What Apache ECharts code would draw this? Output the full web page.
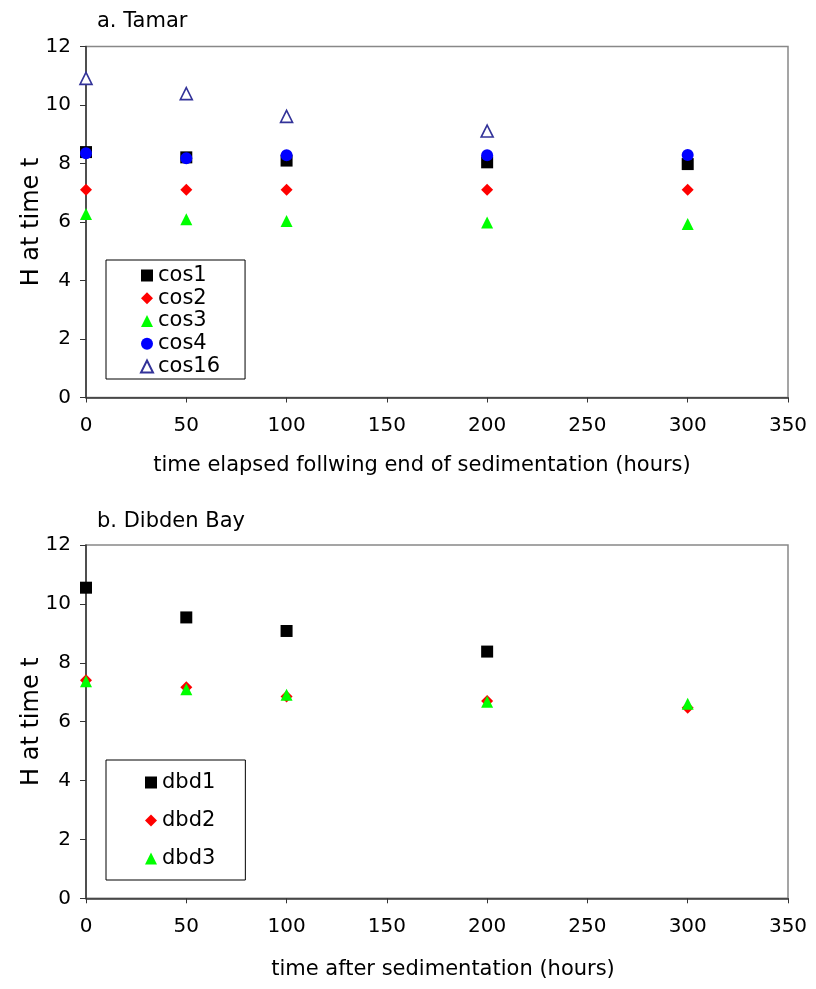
<!DOCTYPE html>
<html>
<head>
<meta charset="utf-8">
<script src="https://cdn.jsdelivr.net/npm/echarts@6/dist/echarts.min.js"></script>
<style>
html,body{margin:0;padding:0;background:#fff;}
#chart{width:816px;height:989px;}
</style>
</head>
<body>
<div id="chart"></div>
<script>
// ---- data ----
const hours = [0, 50, 100, 200, 300];
const cos1 = [8.39, 8.21, 8.10, 8.04, 7.98];
const cos2 = [7.10, 7.10, 7.10, 7.10, 7.10];
const cos3 = [6.27, 6.09, 6.03, 5.98, 5.93];
const cos4 = [8.35, 8.18, 8.28, 8.28, 8.29];
const cos16 = [10.91, 10.39, 9.61, 9.11, null];
const dbd1 = [10.55, 9.54, 9.08, 8.38, null];
const dbd2 = [7.41, 7.17, 6.85, 6.70, 6.47];
const dbd3 = [7.37, 7.10, 6.91, 6.68, 6.61];
const xTicks = [0, 50, 100, 150, 200, 250, 300, 350];
const yTicks = [0, 2, 4, 6, 8, 10, 12];

const FONT = 'DejaVu Sans';
function pairs(ys) { return hours.map((h, i) => [h, ys[i]]).filter(p => p[1] !== null); }

function xAxis(idx, name, gap, pad) {
  return {
    type: 'value', gridIndex: idx, min: xTicks[0], max: xTicks[xTicks.length - 1], interval: 50,
    name: name, nameLocation: 'middle', nameGap: gap,
    nameTextStyle: { fontFamily: FONT, fontSize: 21, color: '#000', padding: pad },
    axisLine: { show: true, onZero: false, lineStyle: { color: '#333', width: 1.5 } },
    axisTick: { show: true, inside: false, length: 5, lineStyle: { color: '#333' } },
    axisLabel: { fontFamily: FONT, fontSize: 20, color: '#000', margin: 18 },
    splitLine: { show: false }
  };
}
function yAxis(idx) {
  return {
    type: 'value', gridIndex: idx, min: yTicks[0], max: yTicks[yTicks.length - 1], interval: 2,
    name: 'H at time t', nameLocation: 'middle', nameGap: 42, nameRotate: 90, nameMoveOverlap: false,
    nameTextStyle: { fontFamily: FONT, fontSize: 24, color: '#000' },
    axisLine: { show: true, onZero: false, lineStyle: { color: '#333', width: 1.5 } },
    axisTick: { show: true, inside: false, length: 6, lineStyle: { color: '#333' } },
    axisLabel: { fontFamily: FONT, fontSize: 20, color: '#000', margin: 15 },
    splitLine: { show: false }
  };
}
function sc(name, ys, gi, symbol, color, hollow) {
  return {
    type: 'scatter', name: name, xAxisIndex: gi, yAxisIndex: gi,
    data: pairs(ys), symbol: symbol, symbolSize: 12,
    itemStyle: hollow ? { color: '#fff', borderColor: color, borderWidth: 1.6, opacity: 1 } : { color: color, opacity: 1 },
    emphasis: { disabled: true }
  };
}
const legendText = { fontFamily: FONT, fontSize: 21, color: '#000' };

const option = {
  animation: false,
  backgroundColor: '#fff',
  title: [
    { text: 'a. Tamar', left: 92, top: 6, textStyle: { fontFamily: FONT, fontSize: 21, fontWeight: 'normal', color: '#000' } },
    { text: 'b. Dibden Bay', left: 92, top: 506, textStyle: { fontFamily: FONT, fontSize: 21, fontWeight: 'normal', color: '#000' } }
  ],
  grid: [
    { left: 86, right: 28, top: 46.5, height: 351, show: true, borderColor: '#888', borderWidth: 1.5 },
    { left: 86, right: 28, top: 545, height: 353.3, show: true, borderColor: '#888', borderWidth: 1.5 }
  ],
  xAxis: [
    xAxis(0, 'time elapsed follwing end of sedimentation (hours)', 58, [0, 30, 0, 0]),
    xAxis(1, 'time after sedimentation (hours)', 61, [0, 0, 0, 12])
  ],
  yAxis: [yAxis(0), yAxis(1)],
  legend: [
    {
      data: ['cos1', 'cos2', 'cos3', 'cos4', 'cos16'], orient: 'vertical', left: 106, top: 260,
      borderColor: '#000', borderWidth: 1, padding: [5, 25, 2, 34], itemGap: 1.75,
      itemWidth: 12, itemHeight: 12, textStyle: Object.assign({ lineHeight: 20 }, legendText),
      selectedMode: false
    },
    {
      data: ['dbd1', 'dbd2', 'dbd3'], orient: 'vertical', left: 106, top: 760,
      borderColor: '#000', borderWidth: 1, padding: [12, 30, 11, 39], itemGap: 17,
      itemWidth: 12, itemHeight: 12, textStyle: Object.assign({ lineHeight: 20 }, legendText),
      selectedMode: false
    }
  ],
  series: [
    sc('cos1', cos1, 0, 'rect', '#000000'),
    sc('cos2', cos2, 0, 'diamond', '#FF0000'),
    sc('cos3', cos3, 0, 'triangle', '#00FF00'),
    sc('cos4', cos4, 0, 'circle', '#0000FF'),
    sc('cos16', cos16, 0, 'triangle', '#333399', true),
    sc('dbd1', dbd1, 1, 'rect', '#000000'),
    sc('dbd2', dbd2, 1, 'diamond', '#FF0000'),
    sc('dbd3', dbd3, 1, 'triangle', '#00FF00')
  ]
};
const chart = echarts.init(document.getElementById('chart'), null, { renderer: 'canvas' });
chart.setOption(option);
</script>
</body>
</html>
